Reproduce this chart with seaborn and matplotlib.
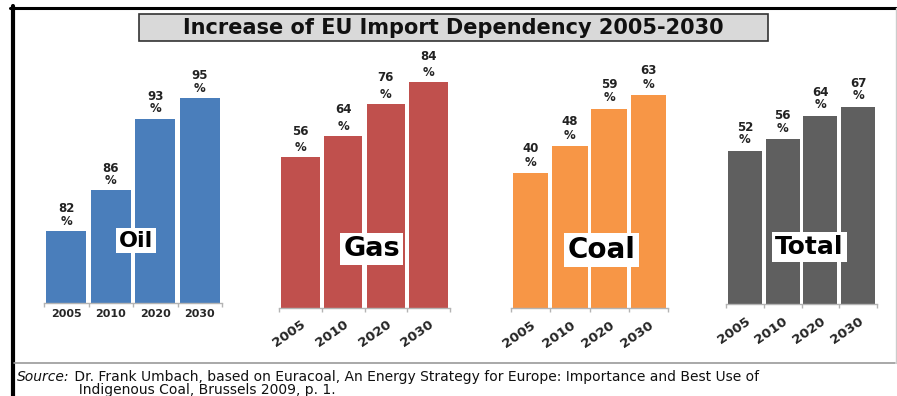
import matplotlib
matplotlib.use("Agg")
import matplotlib.pyplot as plt
from matplotlib.patches import Rectangle
from matplotlib.lines import Line2D
import seaborn as sns

# --- data -------------------------------------------------------------
years = ["2005", "2010", "2020", "2030"]
oil = [82, 86, 93, 95]
gas = [56, 64, 76, 84]
coal = [40, 48, 59, 63]
total = [52, 56, 64, 67]
fuels = ["Oil", "Gas", "Coal", "Total"]
series = [oil, gas, coal, total]
colors = ["#4a7ebb", "#c0504d", "#f79646", "#5f5f5f"]
title = "Increase of EU Import Dependency 2005-2030"
source_head = "Source:"
source_rest = ("Dr. Frank Umbach, based on Euracoal, An Energy Strategy for Europe: "
               "Importance and Best Use of\n"
               "  Indigenous Coal, Brussels 2009, p. 1.")

# --- layout (figure pixels) ------------------------------------------
W, H = 897, 396
sns.set_theme(style="white")
plt.rcParams["font.family"] = ["DejaVu Sans"]

fig = plt.figure(figsize=(W / 100, H / 100), dpi=100)
fig.patch.set_facecolor("white")

def fx(px):
    return px / W

def fy(py):
    return 1 - py / H

# each panel: left px, right px, baseline px, axis minimum, px per unit,
# tick label rotation, value-label offset and line spacing,
# fuel-label centre and size
panels = [
    dict(x0=44, x1=222, base=303, ymin=75, ppu=10.25, rot=0,
         off=16, ls=0.95, lab=(136, 240.5), fs=16),
    dict(x0=279, x1=450, base=307.5, ymin=0, ppu=2.68, rot=35,
         off=18, ls=1.35, lab=(371.5, 249), fs=19.5),
    dict(x0=511, x1=668, base=308, ymin=0, ppu=3.38, rot=35,
         off=17.5, ls=1.05, lab=(601.5, 250), fs=20),
    dict(x0=726, x1=877, base=304, ymin=0, ppu=2.94, rot=35,
         off=17.5, ls=0.95, lab=(809.5, 247), fs=18),
]
top_px = 45

for vals, col, name, p in zip(series, colors, fuels, panels):
    ax = fig.add_axes([fx(p["x0"]), fy(p["base"]),
                       fx(p["x1"] - p["x0"]), (p["base"] - top_px) / H])
    sns.barplot(x=years, y=vals, color=col, saturation=1, width=0.9,
                ax=ax, edgecolor="none")
    ax.set_xlim(-0.5, 3.5)
    ax.set_ylim(p["ymin"], p["ymin"] + (p["base"] - top_px) / p["ppu"])
    ax.set_facecolor("none")
    ax.set_xlabel("")
    ax.set_ylabel("")
    ax.set_yticks([])
    for s in ("left", "right", "top"):
        ax.spines[s].set_visible(False)
    ax.spines["bottom"].set_color("#b4b4b4")
    ax.spines["bottom"].set_linewidth(1.0)

    # tick marks sit between categories, labels under the bar centres
    ax.set_xticks([-0.5, 0.5, 1.5, 2.5, 3.5])
    ax.set_xticklabels([""] * 5)
    ax.tick_params(axis="x", which="major", direction="out", length=3,
                   width=1, color="#b4b4b4", bottom=True)
    ax.set_xticks(range(len(years)), minor=True)
    if p["rot"] == 0:
        ax.set_xticklabels(years, minor=True, fontsize=8, fontweight="bold")
        ax.tick_params(axis="x", which="minor", length=0, pad=4.5)
    else:
        ax.set_xticklabels(years, minor=True, fontsize=9.5, fontweight="bold",
                           rotation=p["rot"], ha="right", va="top",
                           rotation_mode="anchor")
        ax.tick_params(axis="x", which="minor", length=0, pad=7.5)

    for i, v in enumerate(vals):
        ax.annotate(f"{v}\n%", xy=(i, v), xytext=(0, p["off"]),
                    textcoords="offset pixels", ha="center", va="center",
                    multialignment="center", linespacing=p["ls"],
                    fontsize=8.5, fontweight="bold", color="#222222")

    lx, ly = p["lab"]
    fig.text(fx(lx), fy(ly), name, ha="center", va="center",
             fontsize=p["fs"], fontweight="bold", color="black",
             bbox=dict(boxstyle="square,pad=0.12", facecolor="white",
                       edgecolor="none"))

# title box
fig.patches.append(Rectangle((fx(139), fy(41)), fx(768 - 139), (41 - 14) / H,
                             transform=fig.transFigure, facecolor="#d9d9d9",
                             edgecolor="#333333", linewidth=1.2))
fig.text(fx(453.5), fy(27.5), title, ha="center", va="center",
         fontsize=15, fontweight="bold", color="#111111")

# outer frame
fig.add_artist(Line2D([fx(10), fx(897)], [fy(7.5), fy(7.5)],
                      transform=fig.transFigure, color="black", lw=2.2))
fig.add_artist(Line2D([fx(12.5), fx(12.5)], [fy(6), fy(396)],
                      transform=fig.transFigure, color="black", lw=3.0))
fig.add_artist(Line2D([fx(14), fx(895)], [fy(363), fy(363)],
                      transform=fig.transFigure, color="#999999", lw=1.2))
fig.add_artist(Line2D([fx(895.5), fx(895.5)], [fy(8), fy(363)],
                      transform=fig.transFigure, color="#cccccc", lw=1.0))

# source note: italic lead-in followed by the two-line citation
t1 = fig.text(fx(17), fy(370), source_head, ha="left", va="top",
              fontsize=10, fontstyle="italic", color="#111111")
fig.add_artist(plt.Annotation(" " + source_rest, xy=(1, 1), xycoords=t1,
                              va="top", ha="left", fontsize=10,
                              linespacing=0.9, color="#111111"))

fig.savefig("out.png", dpi=100, facecolor="white")
